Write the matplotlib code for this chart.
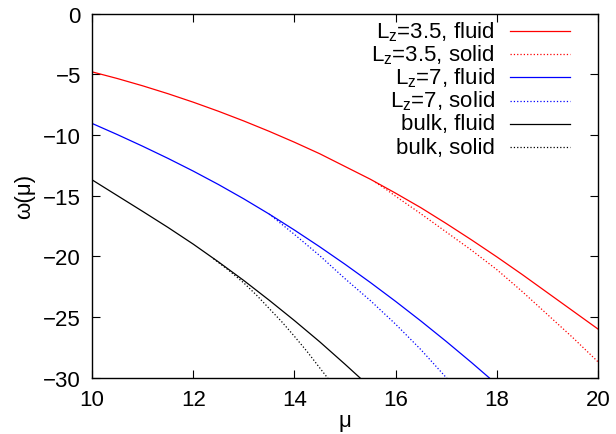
import matplotlib
matplotlib.use("Agg")
import matplotlib.pyplot as plt
from matplotlib.lines import Line2D

plt.rcParams['font.family'] = ['Liberation Sans', 'DejaVu Sans']
plt.rcParams['mathtext.fontset'] = 'custom'
plt.rcParams['mathtext.rm'] = 'Liberation Sans'
plt.rcParams['mathtext.it'] = 'Liberation Sans:italic'

# omega(mu)
mu_red_fluid = [10, 10.5, 11, 11.5, 12, 12.5, 13, 13.5, 14, 14.5, 15, 15.5,
                16, 16.5, 17, 17.5, 18, 18.5, 19, 19.5, 20]
om_red_fluid = [-4.8, -5.35, -5.95, -6.6, -7.3, -8.05, -8.85, -9.7, -10.6,
                -11.55, -12.6, -13.65, -14.8, -16.0, -17.3, -18.65, -20.05,
                -21.5, -23.0, -24.5, -26.0]
mu_red_solid = [15.6, 15.8, 16, 16.5, 17, 17.5, 18, 18.5, 19, 19.5, 20]
om_red_solid = [-13.9, -14.45, -15.05, -16.5, -18.0, -19.5, -21.1, -22.9,
                -24.8, -26.7, -28.7]

mu_blue_fluid = [10, 10.5, 11, 11.5, 12, 12.5, 13, 13.5, 14, 14.5, 15, 15.5,
                 16, 16.5, 17, 17.5, 18]
om_blue_fluid = [-9.05, -9.97, -10.93, -11.93, -12.98, -14.09, -15.27, -16.52,
                 -17.84, -19.22, -20.66, -22.16, -23.72, -25.34, -27.02,
                 -28.76, -30.56]
mu_blue_solid = [13.5, 14, 14.5, 15, 15.5, 16, 16.5, 17, 17.2]
om_blue_solid = [-16.52, -18.2, -19.95, -21.85, -23.65, -25.6, -27.7, -30.0, -31.0]

mu_bulk_fluid = [10, 10.5, 11, 11.5, 12, 12.5, 13, 13.5, 14, 14.5, 15, 15.5]
om_bulk_fluid = [-13.7, -15.0, -16.3, -17.62, -19.0, -20.47, -22.0, -23.62,
                 -25.3, -27.05, -28.9, -30.8]
mu_bulk_solid = [12.4, 12.7, 13, 13.25, 13.5, 13.75, 14, 14.25, 14.5, 14.8]
om_bulk_solid = [-20.2, -21.15, -22.2, -23.2, -24.3, -25.4, -26.6, -27.85,
                 -29.2, -30.8]

labels = ['L$_\\mathrm{z}$=3.5, fluid', 'L$_\\mathrm{z}$=3.5, solid',
          'L$_\\mathrm{z}$=7, fluid', 'L$_\\mathrm{z}$=7, solid',
          'bulk, fluid', 'bulk, solid']
colors = ['#ff0000', '#ff0000', '#0000ff', '#0000ff', '#000000', '#000000']
styles = ['-', ':', '-', ':', '-', ':']

series = [(mu_red_fluid, om_red_fluid), (mu_red_solid, om_red_solid),
          (mu_blue_fluid, om_blue_fluid), (mu_blue_solid, om_blue_solid),
          (mu_bulk_fluid, om_bulk_fluid), (mu_bulk_solid, om_bulk_solid)]

fig = plt.figure(figsize=(6.16, 4.35), dpi=100)
ax = fig.add_axes([0.1494, 0.1297, 0.8214, 0.8367])

for (x, y), c, ls in zip(series, colors, styles):
    ax.plot(x, y, color=c, linestyle=ls, linewidth=0.9)

ax.set_xlim(10, 20)
ax.set_ylim(-30, 0)
ax.set_xticks(range(10, 21, 2))
ax.set_yticks(range(-30, 1, 5))
ax.tick_params(direction='in', length=6, width=0.8, top=True, right=True,
               labelsize=16, pad=8)
for s in ax.spines.values():
    s.set_linewidth(1.0)

ax.set_xlabel('μ', fontsize=16, labelpad=0)
ax.set_ylabel('ω(μ)', fontsize=16, labelpad=6)

# gnuplot style key: right aligned text, sample on the right
y0 = 0.953
dy = 0.064
for i, (lab, c, ls) in enumerate(zip(labels, colors, styles)):
    yy = y0 - i * dy
    ax.text(0.796, yy, lab, transform=ax.transAxes, ha='right', va='center',
            fontsize=16)
    ax.add_line(Line2D([0.826, 0.945], [yy, yy], transform=ax.transAxes,
                       color=c, linestyle=ls, linewidth=0.9))

fig.savefig('out.png', dpi=100)
